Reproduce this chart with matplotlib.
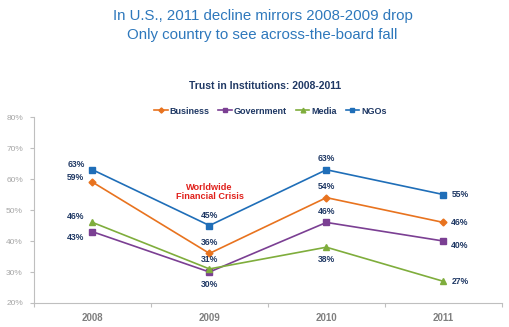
import matplotlib
matplotlib.use("Agg")
from matplotlib import pyplot as plt
from matplotlib.ticker import FixedLocator, PercentFormatter

plt.rcParams["font.family"] = ["Liberation Sans", "DejaVu Sans"]

years = ["2008", "2009", "2010", "2011"]
business = [59, 36, 54, 46]
government = [43, 30, 46, 40]
media = [46, 31, 38, 27]
ngos = [63, 45, 63, 55]

NAVY = "#1F3864"
series = [
    ("Business", business, "#E8731F", "D", 3.5),
    ("Government", government, "#7B3F93", "s", 4.2),
    ("Media", media, "#7FAD3C", "^", 4.5),
    ("NGOs", ngos, "#1F6EB8", "s", 4.2),
]

# where each value label sits relative to its point, per series and year
label_offsets = {
    "Business": [(-12, 3), (0, 8), (0, 8), (12, 0)],
    "Government": [(-12, -4), (0, -9), (0, 8), (12, -3)],
    "Media": [(-12, 4), (0, 7), (0, -9), (12, 0)],
    "NGOs": [(-12, 4), (0, 7), (0, 8), (12, 0)],
}

fig = plt.figure(figsize=(5.1, 3.27), dpi=100)
ax = fig.add_axes([0.0667, 0.0734, 0.9173, 0.5686])

x = [i + 0.5 for i in range(len(years))]
for name, vals, color, marker, ms in series:
    ax.plot(x, vals, color=color, lw=1.2, marker=marker, ms=ms,
            label=name, zorder=3)
    for xi, v, (dx, dy) in zip(x, vals, label_offsets[name]):
        ax.annotate(f"{v}%", (xi, v), xytext=(dx, dy),
                    textcoords="offset points", ha="center", va="center",
                    fontsize=6.2, fontweight="bold", color=NAVY)

ax.text(1.5, 55.8, "Worldwide\nFinancial Crisis", ha="center", va="center",
        color="#E0201B", fontsize=6.6, fontweight="bold", linespacing=1.1)

ax.set_xlim(0, 4)
ax.set_ylim(20, 80)
ax.set_yticks(range(20, 81, 10))
ax.yaxis.set_major_formatter(PercentFormatter(decimals=0))
ax.xaxis.set_major_locator(FixedLocator(range(5)))
ax.xaxis.set_minor_locator(FixedLocator(x))
ax.set_xticklabels([])
ax.set_xticklabels(years, minor=True)
ax.tick_params(axis="x", which="major", length=3, color="#BFBFBF")
ax.tick_params(axis="x", which="minor", length=0, pad=7,
               labelsize=7, labelcolor="#7F7F7F")
ax.tick_params(axis="y", length=3, color="#BFBFBF", labelsize=6,
               labelcolor="#A6A6A6", pad=5)
for lab in ax.get_xticklabels(minor=True):
    lab.set_fontweight("bold")
for side in ("top", "right"):
    ax.spines[side].set_visible(False)
for side in ("left", "bottom"):
    ax.spines[side].set_color("#BFBFBF")

leg = ax.legend(loc="center", bbox_to_anchor=(0.505, 1.032), ncol=4,
                frameon=False, fontsize=6.5, handlelength=1.5,
                handletextpad=0.2, columnspacing=1.0, markerscale=0.75,
                borderpad=0)
for t in leg.get_texts():
    t.set_color(NAVY)
    t.set_fontweight("bold")

fig.text(0.515, 0.972, "In U.S., 2011 decline mirrors 2008-2009 drop\n"
         "Only country to see across-the-board fall",
         ha="center", va="top", fontsize=10.8, color="#2E78BC",
         linespacing=1.45)
fig.text(0.52, 0.737, "Trust in Institutions: 2008-2011", ha="center",
         va="center", fontsize=7.5, fontweight="bold", color=NAVY)

fig.savefig("out.png", dpi=100)
